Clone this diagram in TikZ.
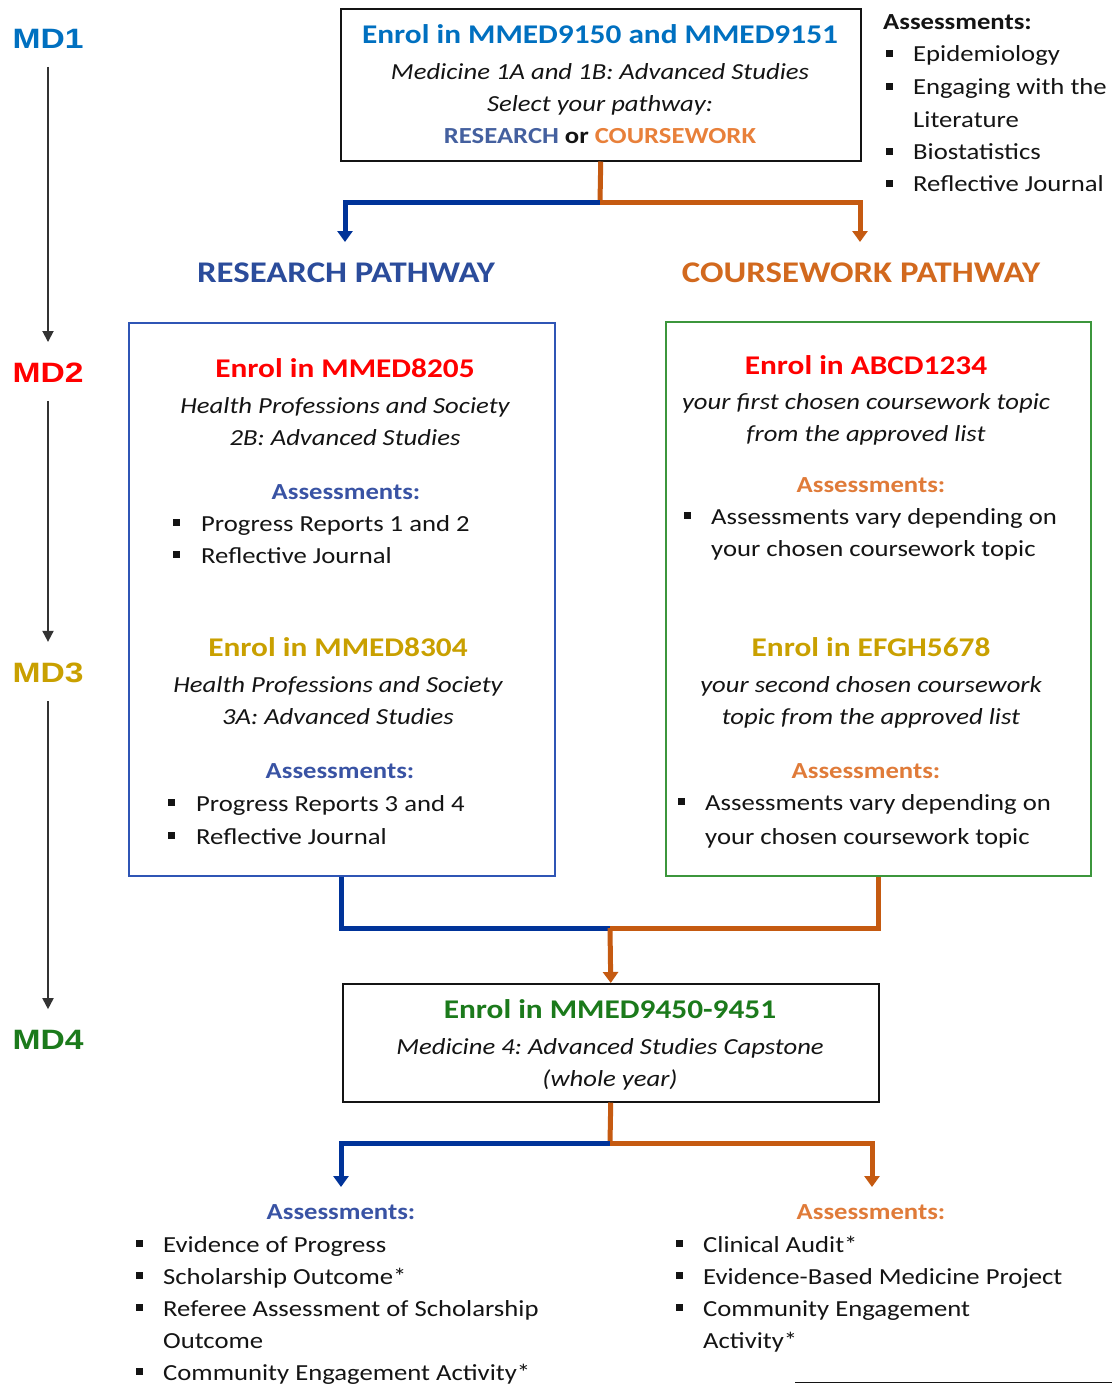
\documentclass[tikz,border=0pt]{standalone}
\usepackage{fontspec}
\setmainfont{Carlito}[FakeStretch=1.16]
\newfontfamily\mdfont{Liberation Sans}[FakeStretch=1.2]
\usetikzlibrary{arrows.meta}
\frenchspacing
\definecolor{txt}{HTML}{141414}
\definecolor{mdblue}{HTML}{0070C0}
\definecolor{mdred}{HTML}{FF0000}
\definecolor{mdgold}{HTML}{C9A000}
\definecolor{mdgreen}{HTML}{1B7A1B}
\definecolor{pblue}{HTML}{003399}
\definecolor{porange}{HTML}{C55A11}
\definecolor{hblue}{HTML}{2B4C9B}
\definecolor{horange}{HTML}{D2691E}
\definecolor{ablue}{HTML}{3953A4}
\definecolor{aorange}{HTML}{E07B39}
\definecolor{rblue}{HTML}{44609F}
\definecolor{corange}{HTML}{E8803A}
\definecolor{boxblue}{HTML}{2F55B5}
\definecolor{boxgreen}{HTML}{3C963C}
\definecolor{mdgray}{HTML}{333333}
\begin{document}
\begin{tikzpicture}[x=1pt,y=-1pt,
  every node/.style={inner sep=0pt, text=txt},
  tshift/.style={yshift=-6pt},
  tl/.style={tshift, font=\fontsize{23}{28}\selectfont, anchor=mid west},
  itc/.style={tshift, font=\fontsize{23}{28}\selectfont\itshape, anchor=mid},
  hd/.style={tshift, font=\fontsize{27}{32}\selectfont\bfseries, anchor=mid},
  asm/.style={tshift, font=\fontsize{23}{28}\selectfont\bfseries, anchor=mid},
  sq/.style={fill=txt, minimum size=7pt, anchor=center},
  mdl/.style={font=\mdfont\fontsize{28}{32}\selectfont\bfseries, anchor=center},
  ph/.style={tshift, font=\fontsize{30}{34}\selectfont\bfseries, anchor=mid},
  boxk/.style={draw=txt, line width=1.5pt, anchor=north west},
  bline/.style={draw=pblue, line width=5pt},
  oline/.style={draw=porange, line width=5pt},
  tip/.style={-{Triangle[width=15pt,length=11pt]}},
  mdarrow/.style={draw=mdgray, line width=1.8pt, -{Triangle[width=11pt,length=11pt]}, shorten <=18pt, shorten >=21pt}
]
\useasboundingbox (0,0) rectangle (1112,1384);
\fill[white] (0,0) rectangle (1112,1384);

% ---- year labels ----
\node[mdl, text=mdblue] (md1) at (48,39) {MD1};
\node[mdl, text=mdred] (md2) at (48,373) {MD2};
\node[mdl, text=mdgold] (md3) at (48,673) {MD3};
\node[mdl, text=mdgreen] (md4) at (48,1040) {MD4};
\draw[mdarrow] (md1.south) -- (md2.north);
\draw[mdarrow] (md2.south) -- (md3.north);
\draw[mdarrow] (md3.south) -- (md4.north);

% ---- top box ----
\node[boxk, minimum width=520pt, minimum height=152pt] (top) at (340,8) {};
\node[hd, text=mdblue] (t1) at (600,35) {Enrol in MMED9150 and MMED9151};
\node[itc] (t2) at (600,71) {Medicine 1A and 1B: Advanced Studies};
\node[itc] (t3) at (600,103) {Select your pathway:};
\node[asm] (t4) at (600,135) {\textcolor{rblue}{RESEARCH} or \textcolor{corange}{COURSEWORK}};

% ---- MD1 assessments ----
\node[tshift, font=\fontsize{23}{28}\selectfont\bfseries, anchor=mid west] (a0) at (883,21) {Assessments:};
\node[sq] (a1b) at (889,53) {};
\node[tl] (a1) at (913,53) {Epidemiology};
\node[sq] (a2b) at (889,86) {};
\node[tl] (a2) at (913,86) {Engaging with the};
\node[tl] (a2c) at (913,119) {Literature};
\node[sq] (a3b) at (889,151) {};
\node[tl] (a3) at (913,151) {Biostatistics};
\node[sq] (a4b) at (889,183) {};
\node[tl] (a4) at (913,183) {Reflective Journal};

% ---- split to pathways ----
\coordinate (j1) at (600,202);
\coordinate (rarr) at (345,242);
\coordinate (carr) at (860,242);
\draw[oline] (top.south) -- (j1);
\draw[bline, tip] (j1) -| (rarr);
\draw[oline, tip] (j1) -| (carr);
\node[ph, text=hblue] (rp) at (346,274) {RESEARCH PATHWAY};
\node[ph, text=horange] (cp) at (861,274) {COURSEWORK PATHWAY};

% ---- research box ----
\node[draw=boxblue, line width=1.5pt, anchor=north west, minimum width=426pt, minimum height=553pt] (lbox) at (128,322) {};
\node[hd, text=mdred] (l1) at (345,369) {Enrol in MMED8205};
\node[itc] (l2) at (345,405) {Health Professions and Society};
\node[itc] (l3) at (345,437) {2B: Advanced Studies};
\node[asm, text=ablue] (l4) at (346,491) {Assessments:};
\node[sq] (l5b) at (176,522) {};
\node[tl] (l5) at (201,523) {Progress Reports 1 and 2};
\node[sq] (l6b) at (176,554) {};
\node[tl] (l6) at (201,555) {Reflective Journal};
\node[hd, text=mdgold] (l7) at (338,648) {Enrol in MMED8304};
\node[itc] (l8) at (338,684) {Health Professions and Society};
\node[itc] (l9) at (338,716) {3A: Advanced Studies};
\node[asm, text=ablue] (l10) at (340,770) {Assessments:};
\node[sq] (l11b) at (171,802) {};
\node[tl] (l11) at (196,803) {Progress Reports 3 and 4};
\node[sq] (l12b) at (171,835) {};
\node[tl] (l12) at (196,836) {Reflective Journal};

% ---- coursework box ----
\node[draw=boxgreen, line width=1.5pt, anchor=north west, minimum width=425pt, minimum height=554pt] (rbox) at (665,321) {};
\node[hd, text=mdred] (r1) at (866,366) {Enrol in ABCD1234};
\node[itc] (r2) at (866,401) {your first chosen coursework topic};
\node[itc] (r3) at (866,433) {from the approved list};
\node[asm, text=aorange] (r4) at (871,484) {Assessments:};
\node[sq] (r5b) at (687,515) {};
\node[tl] (r5) at (711,516) {Assessments vary depending on};
\node[tl] (r6) at (711,548) {your chosen coursework topic};
\node[hd, text=mdgold] (r7) at (871,648) {Enrol in EFGH5678};
\node[itc] (r8) at (871,684) {your second chosen coursework};
\node[itc] (r9) at (871,716) {topic from the approved list};
\node[asm, text=aorange] (r10) at (866,770) {Assessments:};
\node[sq] (r11b) at (681,801) {};
\node[tl] (r11) at (705,802) {Assessments vary depending on};
\node[tl] (r12) at (705,836) {your chosen coursework topic};

% ---- merge ----
\coordinate (j2) at (610,928);
\node[boxk, minimum width=536pt, minimum height=118pt] (bbox) at (342,983) {};
\draw[bline] (lbox.south) |- (j2);
\draw[oline] (rbox.south) |- (j2);
\draw[oline, tip] (j2) -- (bbox.north);
\node[hd, text=mdgreen] (b1) at (610,1010) {Enrol in MMED9450-9451};
\node[itc] (b2) at (610,1046) {Medicine 4: Advanced Studies Capstone};
\node[itc] (b3) at (610,1078) {(whole year)};

% ---- final split ----
\coordinate (j3) at (610,1143);
\coordinate (la) at (341,1187);
\coordinate (ra) at (872,1187);
\draw[oline] (bbox.south) -- (j3);
\draw[bline, tip] (j3) -| (la);
\draw[oline, tip] (j3) -| (ra);

\node[asm, text=ablue] (f0) at (341,1211) {Assessments:};
\node[sq] (f1b) at (139,1243) {};
\node[tl] (f1) at (163,1244) {Evidence of Progress};
\node[sq] (f2b) at (139,1275) {};
\node[tl] (f2) at (163,1276) {Scholarship Outcome*};
\node[sq] (f3b) at (139,1307) {};
\node[tl] (f3) at (163,1308) {Referee Assessment of Scholarship};
\node[tl] (f3c) at (163,1340) {Outcome};
\node[sq] (f4b) at (139,1371) {};
\node[tl] (f4) at (163,1372) {Community Engagement Activity*};

\node[asm, text=aorange] (g0) at (871,1211) {Assessments:};
\node[sq] (g1b) at (679,1243) {};
\node[tl] (g1) at (703,1244) {Clinical Audit*};
\node[sq] (g2b) at (679,1275) {};
\node[tl] (g2) at (703,1276) {Evidence-Based Medicine Project};
\node[sq] (g3b) at (679,1307) {};
\node[tl] (g3) at (703,1308) {Community Engagement};
\node[tl] (g3c) at (703,1340) {Activity*};

\draw[draw=txt, line width=1pt] (795,1382) -- (1112,1382);
\end{tikzpicture}
\end{document}
